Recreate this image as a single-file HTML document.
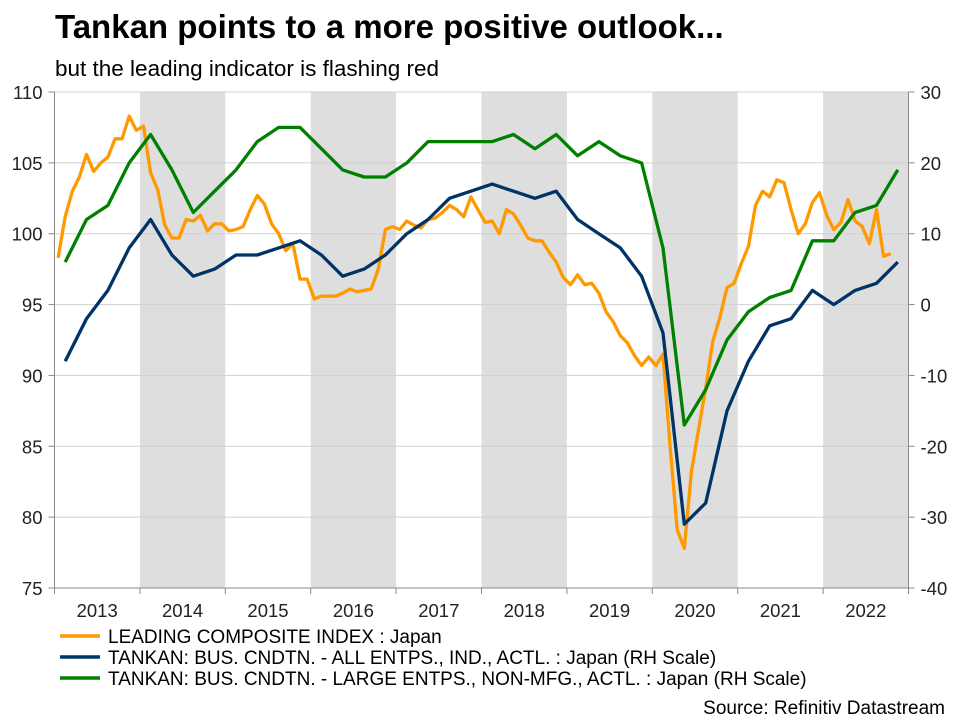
<!DOCTYPE html>
<html><head><meta charset="utf-8"><style>
body{margin:0;background:#fff;font-family:"Liberation Sans",Arial,sans-serif;}
svg{display:block}
</style></head><body>
<svg id="chart" width="960" height="720" xmlns="http://www.w3.org/2000/svg">
<text x="55" y="38" font-size="33" font-weight="bold" fill="#000">Tankan points to a more positive outlook...</text>
<text x="55" y="76" font-size="22.5" fill="#000">but the leading indicator is flashing red</text>
<g id="bands"></g>
<g id="grid"></g>
<g id="axes"></g>
<g id="series"></g>
<g font-size="19" fill="#000">
<line x1="60" y1="636" x2="100" y2="636" stroke="#ff9900" stroke-width="3.5"/>
<text x="108" y="643">LEADING COMPOSITE INDEX : Japan</text>
<line x1="60" y1="657" x2="100" y2="657" stroke="#003366" stroke-width="3.5"/>
<text x="108" y="664">TANKAN: BUS. CNDTN. - ALL ENTPS., IND., ACTL. : Japan (RH Scale)</text>
<line x1="60" y1="678" x2="100" y2="678" stroke="#008000" stroke-width="3.5"/>
<text x="108" y="685">TANKAN: BUS. CNDTN. - LARGE ENTPS., NON-MFG., ACTL. : Japan (RH Scale)</text>
</g>
<text x="945" y="714" font-size="19" text-anchor="end">Source: Refinitiv Datastream</text>
</svg>
<script>
const years=[2013,2014,2015,2016,2017,2018,2019,2020,2021,2022];
const leftTicks=[75,80,85,90,95,100,105,110];
const rightTicks=[-40,-30,-20,-10,0,10,20,30];
const leading=[98.3,101.2,103,104,105.6,104.4,105,105.4,106.7,106.7,108.3,107.3,107.6,104.3,103.1,100.6,99.7,99.7,101,100.9,101.3,100.2,100.7,100.7,100.2,100.3,100.5,101.7,102.7,102.1,100.7,100,98.8,99.3,96.8,96.8,
95.4,95.6,95.6,95.6,95.8,96.1,95.9,96.0,96.1,97.5,100.3,100.5,100.3,100.9,100.6,100.4,101,101.1,101.5,102,101.7,101.2,102.6,101.7,100.8,100.9,100,101.7,101.4,100.6,99.7,99.5,99.5,98.7,98,96.9,96.4,97.1,96.4,96.5,95.8,94.5,93.8,92.8,92.3,91.4,90.7,91.3,90.7,91.5,85,79.1,77.8,83.2,86.2,89.1,92.4,94.1,96.2,96.5,97.9,99.1,102,103,102.6,103.8,103.6,101.7,100,100.7,102.2,102.9,101.3,100.3,100.8,102.4,100.9,100.5,99.3,101.7,98.4,98.6];
const tankanAll=[-8,-2,2,8,12,7,4,5,7,7,8,9,7,4,5,7,10,12,15,16,17,16,15,16,12,10,8,4,-4,-31,-28,-15,-8,-3,-2,2,0,2,3,6];
const tankanLarge=[6,12,14,20,24,19,13,16,19,23,25,25,22,19,18,18,20,23,23,23,23,24,22,24,21,23,21,20,8,-17,-12,-5,-1,1,2,9,9,13,14,19];

const X0=54.5,YW=85.4,TOP=92,BOT=588;
const xT=t=>X0+(t-2013)*YW;
const yL=v=>TOP+(110-v)*(BOT-TOP)/35;
const yR=v=>TOP+(30-v)*(BOT-TOP)/70;
const NS='http://www.w3.org/2000/svg';
function mk(tag,attrs,parent){const e=document.createElementNS(NS,tag);for(const k in attrs)e.setAttribute(k,attrs[k]);parent.appendChild(e);return e;}
const bands=document.getElementById('bands'),grid=document.getElementById('grid'),axes=document.getElementById('axes'),series=document.getElementById('series');
years.forEach((yr,i)=>{if(i%2===1){const r=mk('rect',{x:xT(yr),y:TOP,width:YW,height:BOT-TOP,fill:'#dedede'},bands);

}});
leftTicks.forEach(v=>{const l=mk('line',{x1:X0,x2:X0+10*YW,y1:yL(v),y2:yL(v),stroke:'#d0d0d0','stroke-width':1},grid);


const tk=mk('line',{x1:X0-6,x2:X0,y1:yL(v),y2:yL(v),stroke:'#888'},axes);


const t=mk('text',{x:X0-12,y:yL(v)+7,'font-size':18.5,'text-anchor':'end',fill:'#222'},axes);t.textContent=v;

});
rightTicks.forEach(v=>{const xr=X0+10*YW;
const tk=mk('line',{x1:xr,x2:xr+6,y1:yR(v),y2:yR(v),stroke:'#888'},axes);


const t=mk('text',{x:xr+12,y:yR(v)+7,'font-size':18.5,fill:'#222'},axes);t.textContent=v;

});
const la=mk('line',{x1:X0,x2:X0,y1:TOP,y2:BOT,stroke:'#888'},axes);


const ra=mk('line',{x1:X0+10*YW,x2:X0+10*YW,y1:TOP,y2:BOT,stroke:'#888'},axes);


const ba=mk('line',{x1:X0,x2:X0+10*YW,y1:BOT,y2:BOT,stroke:'#888'},axes);


for(let i=0;i<=10;i++){const tk=mk('line',{x1:xT(2013+i),x2:xT(2013+i),y1:BOT,y2:BOT+6,stroke:'#888'},axes);

}
years.forEach(yr=>{const t=mk('text',{x:xT(yr+0.5),y:BOT+29,'font-size':18.5,'text-anchor':'middle',fill:'#222'},axes);t.textContent=yr;

});
function line(vals,xf,yf,color,name){const d=vals.map((v,i)=>(i?'L':'M')+xf(i).toFixed(1)+','+yf(v).toFixed(1)).join('');
const p=mk('path',{d:d,fill:'none',stroke:color,'stroke-width':3.3,'stroke-linejoin':'round'},series);

}
line(leading,i=>xT(2013+(i+0.5)/12),yL,'#ff9900','leading-index-line');
line(tankanAll,i=>xT(2013.125+i*0.25),yR,'#003366','tankan-all-line');
line(tankanLarge,i=>xT(2013.125+i*0.25),yR,'#008000','tankan-large-line');
</script>
</body></html>
